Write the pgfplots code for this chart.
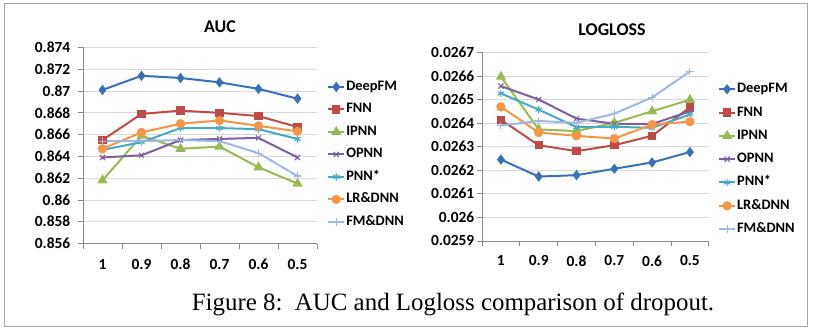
\documentclass[border=0pt]{standalone}
\usepackage{fontspec}
\setmainfont{Carlito}
\newfontfamily\capfont{Liberation Serif}
\usepackage{pgfplots}
\usepackage{pgfplotstable}
\pgfplotsset{compat=1.18}

\definecolor{cDeep}{HTML}{3A70B8}
\definecolor{cFNN}{HTML}{BE4B48}
\definecolor{cIPNN}{HTML}{98B954}
\definecolor{cOPNN}{HTML}{7D60A0}
\definecolor{cPNN}{HTML}{46AAC5}
\definecolor{cLR}{HTML}{F69545}
\definecolor{cFM}{HTML}{A0B8E0}
\definecolor{axisgray}{HTML}{898989}
\definecolor{gridgray}{HTML}{D9D9D9}
\definecolor{framegray}{HTML}{A6A6A6}

\pgfplotstableread{
x DeepFM FNN IPNN OPNN PNN LR FM
0 0.8701 0.8655 0.8618 0.8639 0.8646 0.8647 0.8654
1 0.8714 0.8679 0.8659 0.8641 0.8653 0.8662 0.8654
2 0.8712 0.8682 0.8647 0.8655 0.8666 0.8670 0.8655
3 0.8708 0.8680 0.8649 0.8656 0.8666 0.8673 0.8654
4 0.8702 0.8677 0.8630 0.8657 0.8665 0.8668 0.8643
5 0.8693 0.8667 0.8615 0.8639 0.8656 0.8663 0.8622
}\auctable

\pgfplotstableread{
x DeepFM FNN IPNN OPNN PNN LR FM
0 0.026245 0.026414 0.026597 0.026557 0.026526 0.026469 0.026390
1 0.026173 0.026306 0.026373 0.026500 0.026457 0.026360 0.026409
2 0.026179 0.026281 0.026366 0.026419 0.026383 0.026346 0.026401
3 0.026206 0.026306 0.026401 0.026397 0.026384 0.026334 0.026440
4 0.026233 0.026346 0.026450 0.026396 0.026380 0.026394 0.026509
5 0.026277 0.026467 0.026499 0.026450 0.026436 0.026406 0.026619
}\logtable

\pgfplotsset{
  excel/.style={
    scale only axis, anchor=south west, clip=false,
    xmin=-0.5, xmax=5.5,
    xtick={-0.5,0.5,1.5,2.5,3.5,4.5,5.5},
    x tick label as interval,
    xticklabels={1,0.9,0.8,0.7,0.6,0.5},
    scaled y ticks=false,
    axis x line*=bottom, axis y line*=left,
    axis line style={draw=axisgray, line width=0.8bp, -},
    tick style={draw=axisgray, line width=0.8bp},
    tick align=outside, major tick length=5bp,
    ymajorgrids, grid style={draw=gridgray, line width=0.8bp},
    ticklabel style={font=\bfseries\fontsize{15.5}{16}\selectfont, text=black},
    xticklabel style={anchor=center, inner sep=0pt, yshift=-16bp},
    yticklabel style={anchor=east, inner sep=0pt},
    legend cell align=left,
    legend image code/.code={\draw[mark repeat=2,mark phase=2,##1] plot coordinates {(0bp,0bp) (8bp,0bp) (16bp,0bp)};},
    legend style={draw=none, fill=none, inner sep=0pt, anchor=north west,
      font=\bfseries\fontsize{14.5}{15}\selectfont, row sep=9.5bp,
      nodes={inner xsep=1bp, inner ysep=0pt, text height=10bp, text depth=3bp}},
    every axis plot/.append style={line width=2bp},
  },
  sDeep/.style={cDeep, mark=diamond*, mark size=3.6bp, mark options={solid, fill=cDeep}},
  sFNN/.style={cFNN, mark=square*, mark size=3.2bp, mark options={solid, fill=cFNN}},
  sIPNN/.style={cIPNN, mark=triangle*, mark size=4bp, mark options={solid, fill=cIPNN}},
  sOPNN/.style={cOPNN, mark=x, mark size=3.6bp, mark options={solid, line width=1.1bp}},
  sPNN/.style={cPNN, mark=asterisk, mark size=3.6bp, mark options={solid, line width=1.1bp}},
  sLR/.style={cLR, mark=*, mark size=3.6bp, mark options={solid, fill=cLR}},
  sFM/.style={cFM, mark=+, mark size=3.8bp, mark options={solid, line width=1.1bp}},
}

\begin{document}
\begin{tikzpicture}[x=1bp, y=1bp]
\useasboundingbox (0,0) rectangle (815,328);
\draw[framegray, line width=1.3bp] (4.3,1.5) rectangle (807.5,324.7);

\begin{axis}[excel,
  at={(83bp,84.5bp)}, width=234bp, height=196bp,
  ymin=0.856, ymax=0.874,
  ytick={0.856,0.858,0.86,0.862,0.864,0.866,0.868,0.87,0.872,0.874},
  yticklabels={0.856,0.858,0.86,0.862,0.864,0.866,0.868,0.87,0.872,0.874},
  yticklabel style={xshift=-7.5bp},
  legend style={at={(axis description cs:1.043,0.833)}},
]
\addplot[sDeep] table[x=x,y=DeepFM]{\auctable};
\addplot[sFNN] table[x=x,y=FNN]{\auctable};
\addplot[sIPNN] table[x=x,y=IPNN]{\auctable};
\addplot[sOPNN] table[x=x,y=OPNN]{\auctable};
\addplot[sPNN] table[x=x,y=PNN]{\auctable};
\addplot[sLR] table[x=x,y=LR]{\auctable};
\addplot[sFM] table[x=x,y=FM]{\auctable};
\legend{DeepFM,FNN,IPNN,OPNN,PNN*,LR\&DNN,FM\&DNN}
\end{axis}

\begin{axis}[excel,
  at={(482bp,87.1bp)}, width=226.8bp, height=188.5bp,
  ymin=0.0259, ymax=0.0267,
  ytick={0.0259,0.026,0.0261,0.0262,0.0263,0.0264,0.0265,0.0266,0.0267},
  yticklabels={0.0259,0.026,0.0261,0.0262,0.0263,0.0264,0.0265,0.0266,0.0267},
  yticklabel style={xshift=-2.5bp},
  xticklabel style={yshift=1bp},
  legend style={at={(axis description cs:1.04,0.84)}, row sep=10.3bp},
]
\addplot[sDeep] table[x=x,y=DeepFM]{\logtable};
\addplot[sFNN] table[x=x,y=FNN]{\logtable};
\addplot[sIPNN] table[x=x,y=IPNN]{\logtable};
\addplot[sOPNN] table[x=x,y=OPNN]{\logtable};
\addplot[sPNN] table[x=x,y=PNN]{\logtable};
\addplot[sLR] table[x=x,y=LR]{\logtable};
\addplot[sFM] table[x=x,y=FM]{\logtable};
\legend{DeepFM,FNN,IPNN,OPNN,PNN*,LR\&DNN,FM\&DNN}
\end{axis}

\node[font=\bfseries\fontsize{18}{18}\selectfont] at (220,301) {AUC};
\node[font=\bfseries\fontsize{18}{18}\selectfont] at (612,298) {LOGLOSS};
\node[font=\capfont\fontsize{25}{26}\selectfont, anchor=base] at (453,18) {Figure 8:\ \ AUC and Logloss comparison of dropout.};
\end{tikzpicture}
\end{document}
